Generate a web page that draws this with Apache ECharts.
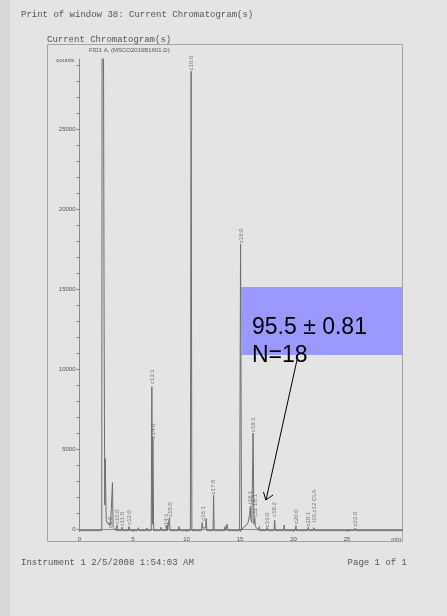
<!DOCTYPE html>
<html>
<head>
<meta charset="utf-8">
<script src="https://cdn.jsdelivr.net/npm/echarts@6/dist/echarts.min.js"></script>
<style>
  html, body { margin: 0; padding: 0; background: #e4e4e4; }
  #chart { width: 447px; height: 616px; }
</style>
</head>
<body>
<div id="chart"></div>
<script>
// trace: retention time (min) and detector counts
var times = [0, 2.08, 2.14, 2.27, 2.30, 2.36, 2.41, 2.45, 2.50, 2.70, 2.90, 3.02, 3.08, 3.14, 3.30,
  3.44, 3.50, 3.56, 3.92, 3.98, 4.04, 4.56, 4.62, 4.68, 5.44, 5.50, 5.56, 6.24, 6.30, 6.36, 6.70, 6.76, 6.81, 6.86, 6.93,
  7.54, 7.60, 7.66, 8.10, 8.16, 8.22, 8.34, 8.40, 8.46, 9.24, 9.30, 9.36, 10.36, 10.43, 10.50,
  11.40, 11.46, 11.52, 11.78, 11.84, 11.90, 12.48, 12.53, 12.58, 13.54, 13.60, 13.66, 13.74, 13.80, 13.86,
  14.96, 15.05, 15.14, 15.30, 15.55, 15.75, 15.90, 15.96, 16.02, 16.10, 16.22, 16.30, 16.37, 16.44, 16.74, 16.80, 16.86,
  17.48, 17.54, 17.60, 18.18, 18.24, 18.30, 19.07, 19.13, 19.19, 20.16, 20.22, 20.28, 21.31, 21.37, 21.43,
  21.84, 21.90, 21.96, 25.71, 25.77, 25.83, 30.2];
var counts = [-100, -100, 60000, 60000, 13000, 1500, 4400, 2300, 500, 300, 250, 200, 2900, 100, 50,
  -100, 250, -100, -100, 120, -100, -100, 150, -100, -100, 80, -100, -100, 60, -100, -100, 8900, 300, 5700, -100,
  -100, 100, -100, -100, 250, -100, -100, 700, -100, -100, 150, -100, -100, 28600, -100,
  -100, 400, 50, 80, 650, -100, -100, 2100, -100, -100, 150, -100, -100, 300, -100,
  -100, 17800, -100, 100, 200, 400, 900, 1400, 600, 400, 6000, 300, 700, 150, -100, 150, -100,
  -100, 100, -100, -100, 550, -100, -100, 250, -100, -100, 200, -100, -100, 100, -100,
  -100, 80, -100, -100, 60, -100, -100];

// peak annotations (name, retention time, height where the label starts)
var peakNames = ['c8:0', 'c10:0', 'c11:0', 'c12:0', 'c13:1', 'c14:0', 'c14:1', 'c15:0', 'c16:0', 'c16:1',
  'c17:0', 'c18:0', 't18:1', 'c18:1', 'c11 18:1', 'c19:0', 'c18:2', 'c20:0', 'c20:1', 't10,c12 CLA', 'c22:0'];
var peakTimes = [2.86, 3.52, 3.98, 4.68, 6.78, 6.88, 8.12, 8.45, 10.43, 11.6,
  12.55, 15.08, 15.95, 16.22, 16.4, 17.54, 18.24, 20.22, 21.37, 21.93, 25.77];
var peakLabelAt = [0, 250, 120, 200, 9000, 5600, 0, 700, 28600, 450,
  2100, 17800, 1500, 6000, 700, 50, 700, 250, 100, 350, 100];

var xLabels = [0, 5, 10, 15, 20, 25];
var yLabels = [0, 5000, 10000, 15000, 20000, 25000];
var yTicks = [0, 1000, 2000, 3000, 4000, 5000, 6000, 7000, 8000, 9000, 10000, 11000, 12000, 13000, 14000,
  15000, 16000, 17000, 18000, 19000, 20000, 21000, 22000, 23000, 24000, 25000, 26000, 27000, 28000, 29000];

var chart = echarts.init(document.getElementById('chart'), null, { renderer: 'canvas' });

var traceData = times.map(function (t, i) { return [t, counts[i]]; });
var labelData = peakNames.map(function (n, i) {
  return { name: n, value: [peakTimes[i], peakLabelAt[i]] };
});

var mono = '"Liberation Mono", "Courier New", monospace';
var sans = '"Liberation Sans", Arial, sans-serif';

var option = {
  backgroundColor: '#e4e4e4',
  animation: false,
  grid: { left: 79.5, right: 44.3, top: 59, bottom: 84.6 },
  xAxis: {
    type: 'value',
    min: 0,
    max: 30.2,
    axisLine: { lineStyle: { color: '#8a8a8a', width: 1 } },
    axisTick: { length: 3, lineStyle: { color: '#8a8a8a' }, customValues: xLabels },
    axisLabel: { customValues: xLabels, fontSize: 6, fontFamily: sans, color: '#555', margin: 5 },
    splitLine: { show: false }
  },
  yAxis: {
    type: 'value',
    min: -150,
    max: 29375,
    axisLine: { show: true, lineStyle: { color: '#8a8a8a', width: 1 } },
    axisTick: { show: true, length: 3, lineStyle: { color: '#8a8a8a' }, customValues: yTicks },
    axisLabel: {
      customValues: yLabels,
      formatter: function (v) { return String(v); },
      fontSize: 6, fontFamily: sans, color: '#555', margin: 4
    },
    splitLine: { show: false }
  },
  series: [
    {
      type: 'line',
      data: traceData,
      showSymbol: false,
      clip: true,
      lineStyle: { color: '#6e6e6e', width: 1 },
      z: 2
    },
    {
      type: 'scatter',
      data: labelData,
      symbolSize: 0,
      label: {
        show: true,
        formatter: '{b}',
        position: 'top',
        distance: 1,
        rotate: 90,
        align: 'left',
        verticalAlign: 'middle',
        fontSize: 6,
        fontFamily: sans,
        color: '#555'
      },
      z: 3
    }
  ],
  graphic: [
    { type: 'rect', shape: { x: 0, y: 0, width: 10, height: 616 }, style: { fill: '#d8d8d8' }, z: -1 },
    { type: 'rect', shape: { x: 47.5, y: 44.5, width: 355, height: 497 }, style: { fill: 'none', stroke: '#a5a5a5', lineWidth: 1 }, z: 0 },
    { type: 'text', x: 21, y: 15, style: { text: 'Print of window 38: Current Chromatogram(s)', font: '9px ' + mono, fill: '#555', textVerticalAlign: 'middle' } },
    { type: 'text', x: 47, y: 40, style: { text: 'Current Chromatogram(s)', font: '9px ' + mono, fill: '#555', textVerticalAlign: 'middle' } },
    { type: 'text', x: 89, y: 50, style: { text: 'FID1 A, (MSCO2016B1601.D)', font: '6px ' + sans, fill: '#555', textVerticalAlign: 'middle' } },
    { type: 'text', x: 74, y: 60, style: { text: 'counts', font: '6px ' + sans, fill: '#555', textAlign: 'right', textVerticalAlign: 'middle' } },
    { type: 'text', x: 401, y: 539, style: { text: 'min', font: '6px ' + sans, fill: '#555', textAlign: 'right', textVerticalAlign: 'middle' } },
    { type: 'text', x: 21, y: 563, style: { text: 'Instrument 1 2/5/2008 1:54:03 AM', font: '9px ' + mono, fill: '#555', textVerticalAlign: 'middle' } },
    { type: 'text', x: 407, y: 563, style: { text: 'Page 1 of 1', font: '9px ' + mono, fill: '#555', textAlign: 'right', textVerticalAlign: 'middle' } },
    // result box and arrow
    { type: 'rect', shape: { x: 241, y: 287, width: 161, height: 68 }, style: { fill: '#9999ff' }, z: 10 },
    { type: 'text', x: 252, y: 316, style: { text: '95.5 \u00b1 0.81', font: '23px ' + sans, fill: '#000', textVerticalAlign: 'alphabetic' }, z: 11 },
    { type: 'text', x: 252, y: 344, style: { text: 'N=18', font: '23px ' + sans, fill: '#000', textVerticalAlign: 'alphabetic' }, z: 11 },
    { type: 'line', shape: { x1: 297, y1: 360, x2: 266, y2: 500 }, style: { stroke: '#000', lineWidth: 1 }, z: 11 },
    { type: 'polyline', shape: { points: [[263.5, 492], [265.8, 500], [273, 495]] }, style: { stroke: '#000', lineWidth: 1, fill: 'none' }, z: 11 }
  ]
};
chart.setOption(option);
</script>
</body>
</html>
